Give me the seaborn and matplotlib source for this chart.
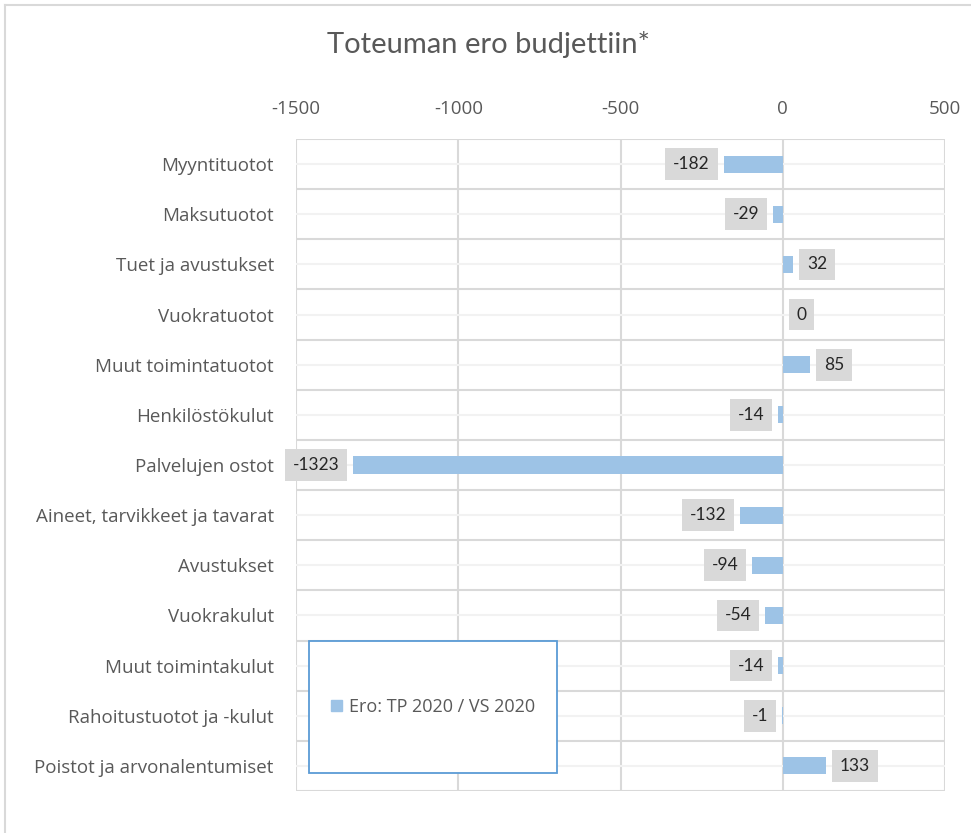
import pandas as pd
import matplotlib.pyplot as plt
import seaborn as sns
from matplotlib.patches import Rectangle, Patch
from matplotlib.lines import Line2D

categories = ["Myyntituotot", "Maksutuotot", "Tuet ja avustukset", "Vuokratuotot",
              "Muut toimintatuotot", "Henkilöstökulut", "Palvelujen ostot",
              "Aineet, tarvikkeet ja tavarat", "Avustukset", "Vuokrakulut",
              "Muut toimintakulut", "Rahoitustuotot ja -kulut",
              "Poistot ja arvonalentumiset"]
values = [-182, -29, 32, 0, 85, -14, -1323, -132, -94, -54, -14, -1, 133]
series_name = "Ero: TP 2020 / VS 2020"
x_ticks = [-1500, -1000, -500, 0, 500]

bar_color = "#9dc3e6"
text_color = "#595959"

data = pd.DataFrame({"Kategoria": categories, "Ero": values})

plt.rcParams['font.family'] = ['Lato', 'DejaVu Sans']
plt.rcParams['axes.unicode_minus'] = False
fig = plt.figure(figsize=(9.71, 8.33), dpi=100)
ax = fig.add_axes([296 / 971, 1 - 791 / 833, 649 / 971, 652 / 833])

sns.barplot(data=data, y="Kategoria", x="Ero", orient="h", color=bar_color,
            width=0.34, saturation=1, ax=ax, zorder=3)

ax.set_xlim(-1500, 500)
ax.set_ylim(len(categories) - 0.5, -0.5)
ax.set_xticks(x_ticks)
ax.xaxis.tick_top()
ax.tick_params(axis='x', length=0, pad=15, labelcolor=text_color)
ax.tick_params(axis='y', length=0, pad=16, labelcolor=text_color)
ax.set_yticks(range(len(categories)))
ax.set_yticklabels(categories)
for lbl in ax.get_xticklabels():
    lbl.set_fontfamily('Open Sans')
    lbl.set_fontsize(13.5)
for lbl in ax.get_yticklabels():
    lbl.set_fontfamily('Open Sans')
    lbl.set_fontsize(13.5)
ax.set_yticks([i - 0.5 for i in range(len(categories) + 1)], minor=True)
ax.tick_params(axis='y', which='minor', length=0)
ax.set_xlabel("")
ax.set_ylabel("")
for s in ax.spines.values():
    s.set_visible(False)

ax.grid(axis='x', which='major', color="#d9d9d9", linewidth=1.5, zorder=0)
ax.grid(axis='y', which='major', color="#f2f2f2", linewidth=1.5, zorder=0)
ax.grid(axis='y', which='minor', color="#d9d9d9", linewidth=1.5, zorder=0)
ax.set_axisbelow(True)

for i, v in enumerate(values):
    if v < 0:
        ax.annotate(str(v), xy=(v, i), xytext=(-10, 0), textcoords='offset points',
                    ha='right', va='center', fontsize=12.5, color="#262626",
                    bbox=dict(boxstyle='square,pad=0.45', fc="#d9d9d9", ec='none'),
                    zorder=5)
    else:
        ax.annotate(str(v), xy=(v, i), xytext=(10, 0), textcoords='offset points',
                    ha='left', va='center', fontsize=12.5, color="#262626",
                    bbox=dict(boxstyle='square,pad=0.45', fc="#d9d9d9", ec='none'),
                    zorder=5)

# legend box
lx0, ly0 = (309 - 296) / 649, (791 - 773) / 652
lw, lh = (557 - 309) / 649, (773 - 641) / 652
ax.add_patch(Rectangle((lx0, ly0), lw, lh, transform=ax.transAxes, fc='white',
                       ec="#5b9bd5", lw=1.3, zorder=6))
leg = ax.legend(handles=[Patch(color=bar_color, label=series_name)],
                loc='center', bbox_to_anchor=(lx0, ly0, lw, lh), frameon=False,
                handlelength=0.6, handleheight=0.6, handletextpad=0.4,
                prop={'family': 'Open Sans', 'size': 13}, labelcolor=text_color)
leg.set_zorder(7)

fig.suptitle("Toteuman ero budjettiin*", x=488 / 971, y=1 - 45 / 833,
             va='center', fontsize=21, color=text_color)

# chart area border (top and left visible)
fig.add_artist(Line2D([5 / 971, 1], [1 - 5 / 833, 1 - 5 / 833], color="#d9d9d9", lw=1.5))
fig.add_artist(Line2D([5 / 971, 5 / 971], [0, 1 - 5 / 833], color="#d9d9d9", lw=1.5))

fig.savefig("out.png", dpi=100)
